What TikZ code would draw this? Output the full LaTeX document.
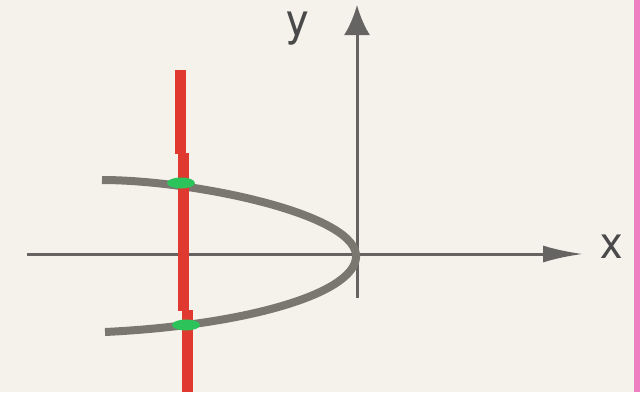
\documentclass[tikz,border=0pt]{standalone}
\usepackage{fontspec}
\setmainfont{TeX Gyre Heros}
\usetikzlibrary{arrows.meta,shapes.geometric}
\definecolor{bgc}{HTML}{F4F2EA}
\definecolor{pinkc}{HTML}{EE80C2}
\definecolor{axisc}{HTML}{666462}
\definecolor{curvec}{HTML}{7A7670}
\definecolor{redc}{HTML}{E03A30}
\definecolor{greenc}{HTML}{2CC45A}
\definecolor{labc}{HTML}{4A4A4A}
\tikzset{
  axisline/.style={draw=axisc, line width=3pt},
  curveline/.style={draw=curvec, line width=8pt},
  redline/.style={draw=redc, line width=11pt},
  greendot/.style={ellipse, fill=greenc, minimum width=28pt, minimum height=11pt, inner sep=0pt},
  axislabel/.style={text=labc, font=\fontsize{45}{50}\selectfont, inner sep=0pt, anchor=base}
}
\begin{document}
\begin{tikzpicture}[x=1pt,y=-1pt]
\useasboundingbox (0,0) rectangle (640,392);
\fill[bgc] (0,0) rectangle (640,392);
\fill[pinkc] (634,0) rectangle (640,392);
% axes
\coordinate (xl) at (27,254);
\coordinate (xr) at (583,254);
\coordinate (yb) at (357,298);
\coordinate (yt) at (357,5);
\draw[axisline, -{Latex[length=40pt,width=17pt]}] (xl) -- (xr);
\draw[axisline, -{Latex[length=30pt,width=26pt]}] (yb) -- (yt);
\node[axislabel] (xlab) at (612,258) {x};
\node[axislabel] (ylab) at (298,35) {y};
% parabola
\coordinate (ul) at (102,180);
\coordinate (v) at (356,254);
\coordinate (ll) at (105,332);
\draw[curveline] (ul) .. controls (190,180) and (350,212) .. (v)
  .. controls (360,292) and (250,325) .. (ll);
% red line
\coordinate (r1) at (180,70);
\coordinate (r2) at (180,154);
\coordinate (r3) at (183.5,153);
\coordinate (r4) at (183.5,311);
\coordinate (r5) at (187.5,310);
\coordinate (r6) at (187.5,392);
\draw[redline] (r1) -- (r2);
\draw[redline] (r3) -- (r4);
\draw[redline] (r5) -- (r6);
% intersection points
\node[greendot] (p1) at (181,183) {};
\node[greendot] (p2) at (186,325) {};
\end{tikzpicture}
\end{document}
